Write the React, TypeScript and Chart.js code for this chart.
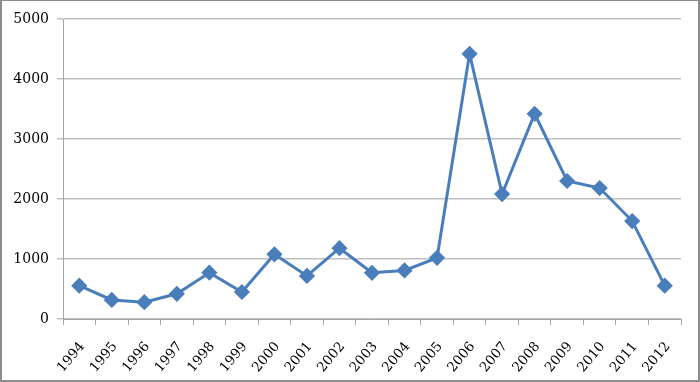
import React, { useEffect, useRef } from "react";
import { Chart, registerables } from "chart.js";

Chart.register(...registerables);

const categories = ["1994","1995","1996","1997","1998","1999","2000","2001","2002","2003","2004","2005","2006","2007","2008","2009","2010","2011","2012"];
const values = [555, 317, 280, 420, 772, 450, 1078, 717, 1180, 770, 810, 1020, 4420, 2083, 3420, 2300, 2183, 1633, 555];
const yTicks = [0, 1000, 2000, 3000, 4000, 5000];

const borderPlugin = {
  id: "frameBorder",
  afterDraw(chart: any) {
    const ctx = chart.ctx;
    ctx.save();
    ctx.strokeStyle = "#8c8c8c";
    ctx.lineWidth = 2;
    ctx.strokeRect(1, 0, chart.width - 2, chart.height - 1);
    ctx.restore();
  },
};

export default function App() {
  const ref = useRef<HTMLCanvasElement>(null);
  useEffect(() => {
    if (!ref.current) return;
    const font = { family: "'DejaVu Serif', serif", size: 14 };
    const xFont = { family: "'DejaVu Serif', serif", size: 13.5 };
    const chart = new Chart(ref.current, {
      type: "line",
      data: {
        labels: categories,
        datasets: [
          {
            data: values,
            borderColor: "#4a7ebb",
            backgroundColor: "#4a7ebb",
            borderWidth: 3,
            pointStyle: "rectRot",
            pointRadius: 6,
            pointHoverRadius: 6,
            tension: 0,
          },
        ],
      },
      options: {
        responsive: false,
        animation: false,
        layout: { padding: { top: 19, right: 19, left: 0, bottom: 0 } },
        plugins: { legend: { display: false }, tooltip: { enabled: false } },
        scales: {
          x: {
            offset: true,
            grid: {
              offset: true,
              drawOnChartArea: false,
              drawTicks: true,
              tickLength: 6,
              color: "#a6a6a6",
            },
            border: { color: "#a6a6a6", width: 1 },
            ticks: {
              font: xFont,
              color: "#000",
              maxRotation: 50,
              minRotation: 50,
              autoSkip: false,
              padding: 14,
              labelOffset: 3,
            },
            afterFit(scale: any) {
              scale.height = 63;
            },
          },
          y: {
            min: 0,
            max: 5000,
            afterBuildTicks(scale: any) {
              scale.ticks = yTicks.map((v) => ({ value: v }));
            },
            grid: { color: "#bfbfbf", tickLength: 6, lineWidth: 1.5 },
            border: { color: "#a6a6a6", width: 1 },
            ticks: { font, color: "#000", padding: 8, callback: (v: any) => String(v) },
            afterFit(scale: any) {
              scale.width = 63;
            },
          },
        },
      },
      plugins: [borderPlugin],
    });
    return () => chart.destroy();
  }, []);
  return (
    <div style={{ position: "absolute", left: 0, top: 0, width: 700, height: 382, background: "#fff" }}>
      <canvas ref={ref} width={700} height={382} />
    </div>
  );
}
